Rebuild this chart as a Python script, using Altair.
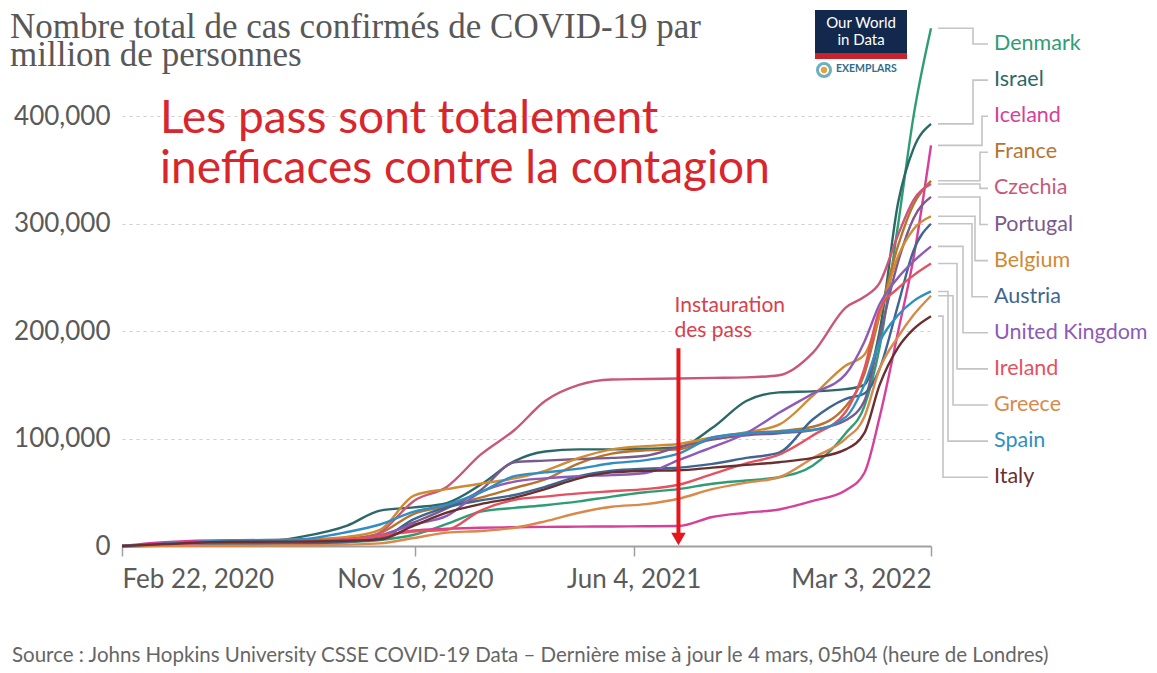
import altair as alt
import pandas as pd

# ---------------- data (cases per million, in thousands) ----------------
DATES = ["2020-02-22", "2020-04-01", "2020-06-01", "2020-08-01", "2020-09-15",
         "2020-10-15", "2020-11-15", "2020-12-15", "2021-01-15", "2021-02-15",
         "2021-03-15", "2021-04-15", "2021-05-15", "2021-06-15", "2021-07-15",
         "2021-08-15", "2021-09-15", "2021-10-15", "2021-11-15", "2021-12-15",
         "2022-01-01", "2022-01-15", "2022-02-01", "2022-02-15", "2022-03-03"]

COUNTRIES = ["Denmark", "Israel", "Iceland", "France", "Czechia", "Portugal", "Belgium",
             "Austria", "United Kingdom", "Ireland", "Greece", "Spain", "Italy"]

DENMARK = [0, 0.5, 2.0, 2.3, 3.7, 5.6, 10.5, 20.5, 32, 35.5, 38, 41.5, 46, 50, 53, 58, 61, 64, 75, 105, 130, 185, 300, 400, 482]
ISRAEL = [0, 0.6, 1.8, 8, 19, 33, 36, 40, 57, 79, 88, 90, 90, 90.5, 92, 110, 135, 143, 144, 146, 150, 200, 320, 370, 393]
ICELAND = [0, 3.5, 5.3, 5.5, 6.2, 9, 14.5, 16, 17, 17.5, 17.8, 18, 18.2, 18.4, 18.6, 27, 31, 34, 42, 52, 68, 120, 200, 268, 373]
FRANCE = [0, 0.8, 2.8, 3.5, 6.5, 12, 30, 37, 45, 54, 62, 77, 86, 89, 90, 100, 105, 107, 111, 130, 160, 215, 280, 318, 340]
CZECHIA = [0, 0.3, 0.85, 1.6, 3.5, 12.5, 42, 55, 85, 108, 135, 150, 155, 155.5, 156, 156.5, 157, 159, 180, 222, 232, 245, 290, 322, 337]
PORTUGAL = [0, 0.8, 3.2, 5, 6.6, 9.5, 22, 35, 52, 78, 79.5, 81, 82, 84, 92, 99, 103, 105, 108, 117, 135, 195, 265, 305, 325]
BELGIUM = [0, 1.1, 5, 6, 8.5, 15, 47, 53, 58, 63, 70, 82, 90, 93, 95, 101, 106, 113, 140, 168, 178, 215, 270, 295, 307]
AUSTRIA = [0, 1.2, 1.9, 2.4, 4, 7, 25, 36, 42.5, 47.5, 55, 65, 70, 72, 73, 76.5, 82, 87, 118, 137, 142, 165, 225, 275, 300]
UNITED_KINGDOM = [0, 0.4, 4, 4.6, 5.5, 10, 20, 28, 50, 60, 63, 65, 66, 68, 80, 92, 105, 124, 142, 160, 190, 225, 250, 265, 279]
IRELAND = [0, 0.7, 5, 5.3, 6.4, 9.5, 13.5, 15, 33, 43, 46, 49, 51, 53, 57, 67, 77, 85, 103, 125, 165, 220, 240, 252, 263]
GREECE = [0, 0.1, 0.3, 0.45, 1.3, 2.4, 7.5, 12.5, 14, 17, 23, 31, 36.5, 39, 44, 53, 59, 64, 82, 100, 120, 165, 195, 215, 233]
SPAIN = [0, 2.2, 5.1, 6.1, 13, 20, 32, 38.5, 50, 65, 68.5, 72, 77, 80, 86, 101, 105, 106.5, 108, 120, 150, 190, 215, 228, 237]
ITALY = [0, 1.8, 3.9, 4.1, 4.9, 6.2, 19, 31, 39, 45, 53, 63, 68.5, 70, 70.5, 73, 75.5, 78, 82, 90, 105, 150, 185, 202, 214]

SERIES = [DENMARK, ISRAEL, ICELAND, FRANCE, CZECHIA, PORTUGAL, BELGIUM,
          AUSTRIA, UNITED_KINGDOM, IRELAND, GREECE, SPAIN, ITALY]

COLORS = ["#2f9d74", "#2d6868", "#d6409a", "#b8742e", "#c9577a", "#7a5a8c", "#d08a32",
          "#3f6690", "#8c5bb8", "#e6505f", "#d9894a", "#2f8fc4", "#6b2f2f"]

TITLE_1 = "Nombre total de cas confirmés de COVID-19 par"
TITLE_2 = "million de personnes"
HEADLINE = ["Les pass sont totalement", "inefficaces contre la contagion"]
ARROW_LABEL = ["Instauration", "des pass"]
PASS_DATE = "2021-07-15"
SOURCE = ("Source : Johns Hopkins University CSSE COVID-19 Data \u2013 "
          "Dernière mise à jour le 4 mars, 05h04 (heure de Londres)")

# ---------------- layout ----------------
W, H = 809, 522
YMAX = 486000
PX_PER_UNIT = H / YMAX

rows = []
for c, vals in zip(COUNTRIES, SERIES):
    for d, v in zip(DATES, vals):
        rows.append({"country": c, "date": d, "cases": v * 1000})
df = pd.DataFrame(rows)

xscale = alt.Scale(
    type="utc",
    domain=[alt.DateTime(year=2020, month=2, date=22, utc=True),
            alt.DateTime(year=2022, month=3, date=3, utc=True)],
    nice=False,
)
yscale = alt.Scale(domain=[0, YMAX], nice=False)
cscale = alt.Scale(domain=COUNTRIES, range=COLORS)

tick_dates = [alt.DateTime(year=2020, month=2, date=22, utc=True),
              alt.DateTime(year=2020, month=11, date=16, utc=True),
              alt.DateTime(year=2021, month=6, date=4, utc=True),
              alt.DateTime(year=2022, month=3, date=3, utc=True)]

XAXIS = alt.Axis(
    values=tick_dates, labelExpr="utcFormat(datum.value, '%b %-d, %Y')", title=None,
    grid=False, labelFlush=True, domainColor="#a0a0a0", domainWidth=2,
    tickColor="#a0a0a0", tickSize=10, tickWidth=1.5,
    labelFont="Lato", labelFontSize=26, labelColor="#5a5a5a", labelPadding=10)
YAXIS = alt.Axis(
    values=[0, 100000, 200000, 300000, 400000],
    labelExpr="format(datum.value, ',')", title=None,
    grid=True, gridDash=[3, 4], gridColor="#cfcfcf", gridWidth=1.2,
    domain=False, ticks=False, labelFont="Lato", labelFontSize=26,
    labelColor="#5a5a5a", labelPadding=12)

lines = alt.Chart(df).mark_line(interpolate="monotone", strokeWidth=2.4).encode(
    x=alt.X("date:T", scale=xscale, axis=XAXIS),
    y=alt.Y("cases:Q", scale=yscale, axis=YAXIS),
    color=alt.Color("country:N", scale=cscale, legend=None),
    detail="country:N",
)

# connectors + labels (right side)
slot_top_px = 44 - 24  # first label centre, relative to plot top
slot_step_px = 36.1
elbow_page = [973, 973, 982, 980, 980, 980, 975, 972, 963, 957, 953, 948, 943]
conn_rows = []
lab_rows = []
for i, (c, vals) in enumerate(zip(COUNTRIES, SERIES)):
    end_v = vals[-1] * 1000
    slot_v = (H - (slot_top_px + i * slot_step_px)) / PX_PER_UNIT
    ex = elbow_page[i] - 122
    pts = [(816, end_v), (ex, end_v), (ex, slot_v), (866, slot_v)]
    for k, (px, yv) in enumerate(pts):
        conn_rows.append({"country": c, "k": k, "px": px, "yv": yv})
    lab_rows.append({"country": c, "slot": slot_v})
conn_df = pd.DataFrame(conn_rows)
lab_df = pd.DataFrame(lab_rows)

connectors = alt.Chart(conn_df).mark_line(color="#c4c4c4", strokeWidth=1.6).encode(
    x=alt.X("px:Q", scale=None, axis=None),
    y=alt.Y("yv:Q", scale=yscale, axis=YAXIS),
    detail="country:N",
    order="k:O",
)

labels = alt.Chart(lab_df).mark_text(
    align="left", baseline="middle", font="Lato", fontSize=21.5
).encode(
    x=alt.value(872),
    y=alt.Y("slot:Q", scale=yscale, axis=YAXIS),
    text="country:N",
    color=alt.Color("country:N", scale=cscale, legend=None),
)

# arrow "Instauration des pass"
arrow_df = pd.DataFrame({"date": [PASS_DATE], "top": [184000], "bottom": [12000], "head": [6500]})
arrow_shaft = alt.Chart(arrow_df).mark_rule(color="#e5171d", strokeWidth=4).encode(
    x=alt.X("date:T", scale=xscale, axis=XAXIS),
    y=alt.Y("top:Q", scale=yscale, axis=YAXIS), y2="bottom:Q")
arrow_head = alt.Chart(arrow_df).mark_point(
    shape="triangle-down", filled=True, size=210, color="#e5171d", opacity=1
).encode(x=alt.X("date:T", scale=xscale, axis=XAXIS),
         y=alt.Y("head:Q", scale=yscale, axis=YAXIS))
arrow_text = alt.Chart(arrow_df).mark_text(
    text=ARROW_LABEL, align="left", baseline="alphabetic", font="Lato", fontSize=21,
    lineHeight=25, color="#d9404a", dx=-4
).encode(x=alt.X("date:T", scale=xscale, axis=XAXIS), y=alt.value(312 - 24))

one = pd.DataFrame({"k": [0]})
title1 = alt.Chart(one).mark_text(
    text=TITLE_1, align="left", baseline="alphabetic", font="Liberation Serif",
    fontSize=35, color="#585858"
).encode(x=alt.value(-112), y=alt.value(38 - 24))
title2 = alt.Chart(one).mark_text(
    text=TITLE_2, align="left", baseline="alphabetic", font="Liberation Serif",
    fontSize=35, color="#585858"
).encode(x=alt.value(-112), y=alt.value(66 - 24))

headline = alt.Chart(one).mark_text(
    text=HEADLINE, align="left", baseline="alphabetic", font="Lato",
    fontSize=46, lineHeight=50, color="#d8262c"
).encode(x=alt.value(160 - 122), y=alt.value(133 - 24))

source = alt.Chart(one).mark_text(
    text=SOURCE, align="left", baseline="alphabetic", font="Lato",
    fontSize=20.5, color="#666666"
).encode(x=alt.value(12 - 122), y=alt.value(662 - 24))

# OWID logo
logo_box = alt.Chart(one).mark_rect(color="#12294d").encode(
    x=alt.value(693), x2=alt.value(785), y=alt.value(-14), y2=alt.value(30))
logo_bar = alt.Chart(one).mark_rect(color="#c8232c").encode(
    x=alt.value(693), x2=alt.value(785), y=alt.value(29), y2=alt.value(35))
logo_text = alt.Chart(one).mark_text(
    text=["Our World", "in Data"], align="center", baseline="alphabetic", font="Lato",
    fontSize=15, lineHeight=17, color="white"
).encode(x=alt.value(739), y=alt.value(4))
ex_ring = alt.Chart(one).mark_point(
    shape="circle", filled=False, size=170, stroke="#2f8fa0", strokeWidth=3
).encode(x=alt.value(702), y=alt.value(46))
ex_dot = alt.Chart(one).mark_point(
    shape="circle", filled=True, size=40, color="#e8a13a", opacity=1
).encode(x=alt.value(702), y=alt.value(46))
ex_text = alt.Chart(one).mark_text(
    text="EXEMPLARS", align="left", baseline="middle", font="Lato", fontWeight="bold",
    fontSize=10.5, color="#2f6f8a"
).encode(x=alt.value(714), y=alt.value(45))

chart = alt.layer(
    lines, connectors, labels, arrow_shaft, arrow_head, arrow_text,
    title1, title2, headline, source, logo_box, logo_bar, logo_text, ex_ring, ex_dot, ex_text
).properties(
    width=W, height=H,
    autosize=alt.AutoSizeParams(type="none"),
    padding={"left": 114, "top": 16, "right": 218, "bottom": 121},
    background="white",
).configure_view(stroke=None)

chart.save("out.html", embed_options={"renderer": "svg", "actions": False})
